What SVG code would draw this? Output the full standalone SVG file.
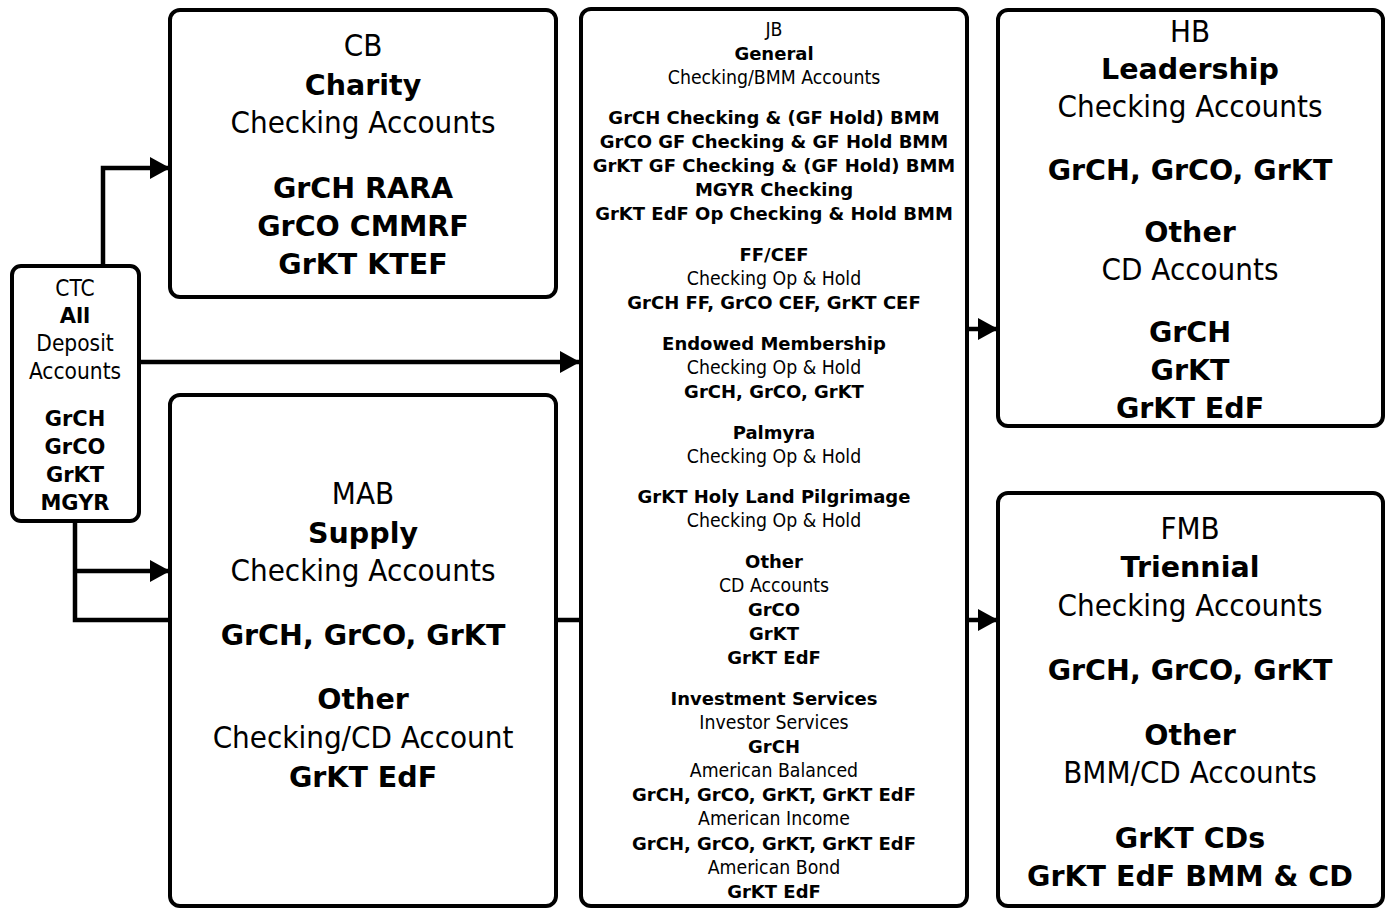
<svg xmlns="http://www.w3.org/2000/svg" width="1388" height="911" viewBox="0 0 1388 911">
<style>
.box{fill:#fff;stroke:#000;stroke-width:4}
.r{font-family:'DejaVu Sans Condensed','DejaVu Sans',sans-serif;font-stretch:condensed;text-anchor:middle;fill:#000}
.b{font-family:'DejaVu Sans','Liberation Sans',sans-serif;font-weight:bold;text-anchor:middle;fill:#000}
.big .r{font-size:31px}
.big .b{font-size:28.5px}
.ctc .r{font-size:22.5px}
.ctc .b{font-size:21px}
.jb .r{font-size:19.3px}
.jb .b{font-size:18px}
.conn{fill:none;stroke:#000;stroke-width:4.5}
</style>
<defs>
<marker id="arr" markerUnits="userSpaceOnUse" markerWidth="22" markerHeight="22" refX="20" refY="11" orient="auto">
<path d="M0,0 L20,11 L0,22 Z" fill="#000"/>
</marker>
</defs>
<g id="connectors">
<path class="conn" d="M103,266 V168 H170" marker-end="url(#arr)"/>
<path class="conn" d="M139,362 H580" marker-end="url(#arr)"/>
<path class="conn" d="M75,521 V620 H170"/>
<path class="conn" d="M75,571 H170" marker-end="url(#arr)"/>
<path class="conn" d="M556,620 H580"/>
<path class="conn" d="M967,329 H998" marker-end="url(#arr)"/>
<path class="conn" d="M967,620 H998" marker-end="url(#arr)"/>
</g>
<g id="ctc" class="ctc">
<rect class="box" x="12" y="266" width="127" height="255" rx="9"/>
<text class="r" x="75" y="296">CTC</text>
<text class="b" x="75" y="323">All</text>
<text class="r" x="75" y="351">Deposit</text>
<text class="r" x="75" y="379">Accounts</text>
<text class="b" x="75" y="426">GrCH</text>
<text class="b" x="75" y="454">GrCO</text>
<text class="b" x="75" y="482">GrKT</text>
<text class="b" x="75" y="510">MGYR</text>
</g>
<g id="cb" class="big">
<rect class="box" x="170" y="10" width="386" height="287" rx="10"/>
<text class="r" x="363" y="56">CB</text>
<text class="b" x="363" y="95">Charity</text>
<text class="r" x="363" y="133">Checking Accounts</text>
<text class="b" x="363" y="198">GrCH RARA</text>
<text class="b" x="363" y="236">GrCO CMMRF</text>
<text class="b" x="363" y="274">GrKT KTEF</text>
</g>
<g id="mab" class="big">
<rect class="box" x="170" y="395" width="386" height="511" rx="10"/>
<text class="r" x="363" y="504">MAB</text>
<text class="b" x="363" y="543">Supply</text>
<text class="r" x="363" y="581">Checking Accounts</text>
<text class="b" x="363" y="645">GrCH, GrCO, GrKT</text>
<text class="b" x="363" y="709">Other</text>
<text class="r" x="363" y="748">Checking/CD Account</text>
<text class="b" x="363" y="787">GrKT EdF</text>
</g>
<g id="jb" class="jb">
<rect class="box" x="581" y="9" width="386" height="897" rx="10"/>
<text class="r" x="774" y="36">JB</text>
<text class="b" x="774" y="60">General</text>
<text class="r" x="774" y="84">Checking/BMM Accounts</text>
<text class="b" x="774" y="124">GrCH Checking &amp; (GF Hold) BMM</text>
<text class="b" x="774" y="148">GrCO GF Checking &amp; GF Hold BMM</text>
<text class="b" x="774" y="172">GrKT GF Checking &amp; (GF Hold) BMM</text>
<text class="b" x="774" y="196">MGYR Checking</text>
<text class="b" x="774" y="220">GrKT EdF Op Checking &amp; Hold BMM</text>
<text class="b" x="774" y="261">FF/CEF</text>
<text class="r" x="774" y="285">Checking Op &amp; Hold</text>
<text class="b" x="774" y="309">GrCH FF, GrCO CEF, GrKT CEF</text>
<text class="b" x="774" y="350">Endowed Membership</text>
<text class="r" x="774" y="374">Checking Op &amp; Hold</text>
<text class="b" x="774" y="398">GrCH, GrCO, GrKT</text>
<text class="b" x="774" y="439">Palmyra</text>
<text class="r" x="774" y="463">Checking Op &amp; Hold</text>
<text class="b" x="774" y="503">GrKT Holy Land Pilgrimage</text>
<text class="r" x="774" y="527">Checking Op &amp; Hold</text>
<text class="b" x="774" y="568">Other</text>
<text class="r" x="774" y="592">CD Accounts</text>
<text class="b" x="774" y="616">GrCO</text>
<text class="b" x="774" y="640">GrKT</text>
<text class="b" x="774" y="664">GrKT EdF</text>
<text class="b" x="774" y="705">Investment Services</text>
<text class="r" x="774" y="729">Investor Services</text>
<text class="b" x="774" y="753">GrCH</text>
<text class="r" x="774" y="777">American Balanced</text>
<text class="b" x="774" y="801">GrCH, GrCO, GrKT, GrKT EdF</text>
<text class="r" x="774" y="825">American Income</text>
<text class="b" x="774" y="850">GrCH, GrCO, GrKT, GrKT EdF</text>
<text class="r" x="774" y="874">American Bond</text>
<text class="b" x="774" y="898">GrKT EdF</text>
</g>
<g id="hb" class="big">
<rect class="box" x="998" y="10" width="385" height="416" rx="10"/>
<text class="r" x="1190" y="42">HB</text>
<text class="b" x="1190" y="79">Leadership</text>
<text class="r" x="1190" y="117">Checking Accounts</text>
<text class="b" x="1190" y="180">GrCH, GrCO, GrKT</text>
<text class="b" x="1190" y="242">Other</text>
<text class="r" x="1190" y="280">CD Accounts</text>
<text class="b" x="1190" y="342">GrCH</text>
<text class="b" x="1190" y="380">GrKT</text>
<text class="b" x="1190" y="418">GrKT EdF</text>
</g>
<g id="fmb" class="big">
<rect class="box" x="998" y="493" width="385" height="413" rx="10"/>
<text class="r" x="1190" y="539">FMB</text>
<text class="b" x="1190" y="577">Triennial</text>
<text class="r" x="1190" y="616">Checking Accounts</text>
<text class="b" x="1190" y="680">GrCH, GrCO, GrKT</text>
<text class="b" x="1190" y="745">Other</text>
<text class="r" x="1190" y="783">BMM/CD Accounts</text>
<text class="b" x="1190" y="848">GrKT CDs</text>
<text class="b" x="1190" y="886">GrKT EdF BMM &amp; CD</text>
</g>
</svg>
